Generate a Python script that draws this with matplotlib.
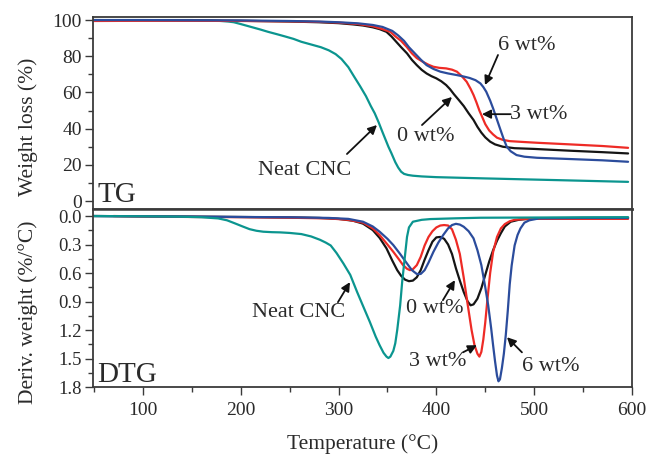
import matplotlib
matplotlib.use("Agg")
import matplotlib.pyplot as plt
from matplotlib.ticker import MultipleLocator, FormatStrFormatter

plt.rcParams['font.family'] = ['Liberation Serif', 'DejaVu Serif']

# ---------------- TG data (temperature in °C, weight %) ----------------
tg_t_0 = [50, 100, 150, 200, 250, 280, 300, 315, 325, 335, 342, 349, 354, 359, 364, 370, 375, 380, 385, 390,
          395, 400, 405, 410, 414, 418, 423, 428, 433, 438, 442, 446, 450, 455, 460, 468, 480, 500, 537, 570, 596]
tg_v_0 = [100, 99.9, 99.8, 99.6, 99.2, 98.8, 98.3, 97.6, 97, 96, 95, 93.5, 91, 88, 85, 81.6, 78, 75.1, 72.5, 70.5,
          69, 67.8, 66.2, 64.1, 61.8, 59, 55.8, 52.5, 48.5, 44.8, 41, 37.8, 35.2, 32.8, 31.3, 30, 29.2, 28.8, 27.8, 27, 26.3]

tg_t_3 = [50, 100, 150, 200, 250, 280, 300, 320, 335, 345, 353, 358, 364, 370, 375, 380, 386, 392, 397, 403,
          410, 416, 421, 426, 431, 435, 438, 441, 444, 447, 450, 454, 458, 462, 468, 475, 490, 503, 537, 570, 596]
tg_v_3 = [99.5, 99.6, 99.6, 99.5, 99.3, 99, 98.6, 97.8, 96.6, 95, 93.5, 91, 88.5, 85, 81.6, 79, 77, 75.3, 74.2, 73.6,
          73.3, 72.6, 71.5, 69, 65.9, 62, 58.6, 54.5, 50, 46.3, 42.5, 39, 36.8, 35, 33.8, 33.1, 32.6, 32.2, 31.3, 30.4, 29.4]

tg_t_6 = [50, 100, 150, 200, 250, 280, 300, 320, 335, 345, 355, 361, 367, 372, 378, 384, 390, 397, 404, 412,
          421, 428, 434, 440, 445, 448, 451, 455, 458, 461, 465, 469, 472, 476, 482, 490, 503, 537, 570, 596]
tg_v_6 = [100, 100, 99.9, 99.8, 99.5, 99.2, 98.8, 98.2, 97.3, 96.2, 94, 91.5, 88.5, 85, 81.6, 78.2, 75.1, 73, 71.5, 70.5,
          69.6, 68.8, 68, 66.8, 65, 63, 60.4, 55.5, 51.2, 46.5, 40.2, 34, 30, 27.5, 25.4, 24.5, 23.9, 23.2, 22.5, 21.7]

tg_t_cnc = [50, 100, 150, 170, 180, 187, 193, 200, 210, 220, 228, 237, 245, 254, 262, 272, 282, 290, 297, 303, 310,
            316, 322, 328, 333, 337, 341, 345, 348, 351, 354, 358, 361, 364, 367, 371, 376, 385, 400, 450, 520, 596]
tg_v_cnc = [100, 100, 100, 99.8, 99.5, 99.2, 98.8, 97.8, 96.3, 94.8, 93.5, 92.2, 91, 89.6, 88, 86.5, 85, 83.3, 81.2, 78.5, 74,
            68.7, 63.5, 58, 52.5, 48.5, 43.5, 38, 34, 30, 26.5, 21.5, 18.5, 16.2, 15, 14.4, 14, 13.6, 13.2, 12.5, 11.6, 10.6]

# ---------------- DTG data (temperature in °C, %/°C) ----------------
dtg_t_0 = [50, 100, 150, 200, 250, 280, 300, 315, 325, 335, 342, 349, 355, 360, 364, 368, 372, 376, 380, 384, 388,
           392, 396, 400, 404, 408, 412, 416, 420, 424, 428, 432, 435, 438, 442, 446, 450, 454, 458, 462, 466, 470,
           476, 484, 495, 510, 550, 596]
dtg_d_0 = [0, 0.003, 0.006, 0.01, 0.015, 0.02, 0.03, 0.05, 0.08, 0.148, 0.23, 0.34, 0.47, 0.57, 0.63, 0.67, 0.686,
           0.68, 0.645, 0.57, 0.46, 0.36, 0.27, 0.225, 0.22, 0.24, 0.3, 0.4, 0.55, 0.68, 0.8, 0.9, 0.94, 0.93, 0.87,
           0.76, 0.62, 0.48, 0.36, 0.26, 0.18, 0.11, 0.06, 0.04, 0.028, 0.022, 0.02, 0.02]

dtg_t_3 = [70, 100, 150, 200, 250, 290, 310, 325, 335, 342, 350, 356, 362, 366, 370, 373, 376, 380, 384, 388, 392,
           396, 400, 404, 408, 412, 416, 420, 424, 428, 432, 436, 439, 442, 444, 446, 448, 450, 452, 455, 458, 462,
           466, 470, 475, 480, 490, 500, 550, 596]
dtg_d_3 = [0, 0.005, 0.01, 0.012, 0.018, 0.025, 0.04, 0.07, 0.13, 0.2, 0.3, 0.377, 0.46, 0.517, 0.555, 0.57, 0.56,
           0.517, 0.43, 0.31, 0.22, 0.16, 0.12, 0.1, 0.095, 0.1, 0.14, 0.25, 0.4, 0.65, 0.93, 1.2, 1.36, 1.45, 1.48,
           1.43, 1.3, 1.12, 0.9, 0.6, 0.38, 0.22, 0.13, 0.085, 0.055, 0.04, 0.032, 0.03, 0.03, 0.03]

dtg_t_6 = [50, 100, 150, 200, 250, 290, 310, 325, 335, 342, 350, 356, 363, 370, 375, 380, 384, 388, 392, 397, 402,
           407, 412, 416, 420, 424, 428, 433, 438, 442, 446, 450, 453, 456, 458, 460, 462, 463.5, 465, 467, 469, 471,
           473, 475, 477, 480, 483, 486, 490, 495, 505, 550, 596]
dtg_d_6 = [0, 0.003, 0.006, 0.01, 0.013, 0.02, 0.03, 0.06, 0.11, 0.165, 0.24, 0.306, 0.4, 0.5, 0.57, 0.61, 0.61,
           0.57, 0.49, 0.377, 0.28, 0.2, 0.13, 0.095, 0.082, 0.09, 0.113, 0.16, 0.235, 0.36, 0.517, 0.75, 0.94, 1.18,
           1.36, 1.53, 1.68, 1.74, 1.72, 1.6, 1.45, 1.25, 1.0, 0.72, 0.52, 0.31, 0.2, 0.13, 0.07, 0.045, 0.025, 0.02, 0.02]

dtg_t_cnc = [50, 100, 139, 160, 177, 186, 194, 202, 209, 216, 223, 232, 240, 250, 262, 272, 281, 287, 292, 298, 305,
             312, 319, 326, 332, 338, 342, 346, 349, 351, 353, 356, 358, 360, 363, 365, 368, 370, 372, 376, 385, 394,
             420, 445, 520, 596]
dtg_d_cnc = [0, 0.003, 0.007, 0.013, 0.025, 0.045, 0.077, 0.11, 0.138, 0.155, 0.165, 0.17, 0.172, 0.178, 0.19, 0.215,
             0.25, 0.28, 0.31, 0.39, 0.5, 0.62, 0.8, 0.97, 1.115, 1.27, 1.36, 1.44, 1.48, 1.495, 1.48, 1.42, 1.34, 1.2,
             0.94, 0.7, 0.41, 0.22, 0.12, 0.06, 0.04, 0.032, 0.024, 0.018, 0.015, 0.012]

col_0 = '#151515'
col_3 = '#ee2b26'
col_6 = '#2b4c9c'
col_cnc = '#0b958f'
spine_col = '#3a3a3a'
txt_col = '#2a2a2a'

fig = plt.figure(figsize=(6.48, 4.55), dpi=100)
L, R = 93 / 648, 632 / 648
y_top = 1 - 17 / 455
y_mid = 1 - 209 / 455
y_bot = 1 - 387 / 455
ax1 = fig.add_axes([L, y_mid, R - L, y_top - y_mid])
ax2 = fig.add_axes([L, y_bot, R - L, y_mid - y_bot], sharex=ax1)

lw = 1.6
kw = dict(lw=lw, solid_joinstyle='round', solid_capstyle='round')
ax1.plot(tg_t_cnc, tg_v_cnc, color=col_cnc, **kw)
ax1.plot(tg_t_0, tg_v_0, color=col_0, **kw)
ax1.plot(tg_t_3, tg_v_3, color=col_3, **kw)
ax1.plot(tg_t_6, tg_v_6, color=col_6, **kw)

ax2.plot(dtg_t_0, dtg_d_0, color=col_0, **kw)
ax2.plot(dtg_t_3, dtg_d_3, color=col_3, **kw)
ax2.plot(dtg_t_6, dtg_d_6, color=col_6, **kw)
ax2.plot(dtg_t_cnc, dtg_d_cnc, color=col_cnc, **kw)

ax1.set_xlim(49, 600)
ax1.set_ylim(-4.4, 101.7)
ax2.set_ylim(1.8, -0.074)

for ax in (ax1, ax2):
    for s in ax.spines.values():
        s.set_color(spine_col)
        s.set_linewidth(1.3)
    ax.tick_params(axis='both', which='major', direction='out', length=6, width=1.0,
                   color=spine_col, labelcolor=txt_col, right=False, top=False)
    ax.tick_params(axis='both', which='minor', direction='out', length=3.5, width=1.0,
                   color=spine_col, right=False, top=False)

ax1.yaxis.set_major_locator(MultipleLocator(20))
ax1.yaxis.set_minor_locator(MultipleLocator(10))
ax1.tick_params(axis='y', labelsize=14, pad=2)
ax1.tick_params(axis='x', which='both', bottom=False, labelbottom=False)
ax1.spines['bottom'].set_linewidth(1.8)
ax2.spines['top'].set_linewidth(1.8)

ax2.yaxis.set_major_locator(MultipleLocator(0.3))
ax2.yaxis.set_minor_locator(MultipleLocator(0.15))
ax2.yaxis.set_major_formatter(FormatStrFormatter('%.1f'))
ax2.tick_params(axis='y', labelsize=13.5, pad=2)
ax2.xaxis.set_major_locator(MultipleLocator(100))
ax2.xaxis.set_minor_locator(MultipleLocator(50))
ax2.tick_params(axis='x', labelsize=14, pad=5)

fig.text(28 / 648, 1 - 127 / 455, 'Weight loss (%)', rotation=90, ha='center', va='center',
         fontsize=15.5, color=txt_col)
fig.text(28 / 648, 1 - 312 / 455, 'Deriv. weight (%/°C)', rotation=90, ha='center', va='center',
         fontsize=15.5, color=txt_col)
fig.text(363 / 648, 1 - 444 / 455, 'Temperature (°C)', ha='center', va='center',
         fontsize=15.5, color=txt_col)

ax1.text(0.008, 0.036, 'TG', transform=ax1.transAxes, fontsize=21, color=txt_col,
         ha='left', va='baseline')
ax2.text(0.008, 0.028, 'DTG', transform=ax2.transAxes, fontsize=21, color=txt_col,
         ha='left', va='baseline')

ann_fs = 16
arrow = dict(arrowstyle='-|>', color='#111111', lw=1.3, mutation_scale=13, shrinkA=0, shrinkB=0)

# TG annotations
ax1.annotate('', xy=(339.3, 42), xytext=(308.6, 26), arrowprops=arrow)
ax1.text(265.6, 16.6, 'Neat CNC', ha='center', va='center', fontsize=ann_fs, color=txt_col)
ax1.annotate('', xy=(416, 57.5), xytext=(385.3, 42), arrowprops=arrow)
ax1.text(389.4, 35.9, '0 wt%', ha='center', va='center', fontsize=ann_fs, color=txt_col)
ax1.annotate('', xy=(449.7, 64.1), xytext=(463, 80.7), arrowprops=arrow)
ax1.text(492.6, 86.2, '6 wt%', ha='center', va='center', fontsize=ann_fs, color=txt_col)
ax1.annotate('', xy=(446.6, 48), xytext=(476, 48), arrowprops=arrow)
ax1.text(475.3, 47.8, '3 wt%', ha='left', va='center', fontsize=ann_fs, color=txt_col)

# DTG annotations
ax2.annotate('', xy=(311.7, 0.696), xytext=(299.4, 0.907), arrowprops=arrow)
ax2.text(259.5, 1.013, 'Neat CNC', ha='center', va='center', fontsize=ann_fs, color=txt_col)
ax2.annotate('', xy=(419, 0.675), xytext=(406.7, 0.886), arrowprops=arrow)
ax2.text(398.6, 0.97, '0 wt%', ha='center', va='center', fontsize=ann_fs, color=txt_col)
ax2.annotate('', xy=(441.5, 1.36), xytext=(427.2, 1.435), arrowprops=arrow)
ax2.text(401.1, 1.53, '3 wt%', ha='center', va='center', fontsize=ann_fs, color=txt_col)
ax2.annotate('', xy=(472.2, 1.276), xytext=(487.5, 1.435), arrowprops=arrow)
ax2.text(517.2, 1.58, '6 wt%', ha='center', va='center', fontsize=ann_fs, color=txt_col)

fig.savefig('out.png', dpi=100)
